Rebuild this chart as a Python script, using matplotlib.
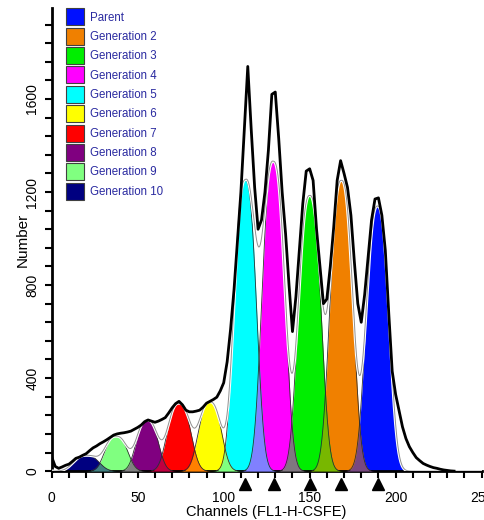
import numpy as np
import matplotlib
matplotlib.use('Agg')
import matplotlib.pyplot as plt
import matplotlib.patheffects as pe
from matplotlib.patches import Patch
from matplotlib.ticker import MultipleLocator
from matplotlib.colors import to_rgb

plt.rcParams['font.family'] = ['Liberation Sans', 'DejaVu Sans']

# Generation peaks (fitted model)
gen_names = ['Parent', 'Generation 2', 'Generation 3', 'Generation 4', 'Generation 5',
             'Generation 6', 'Generation 7', 'Generation 8', 'Generation 9', 'Generation 10']
gen_colors = ['#0010ff', '#f08000', '#00ee00', '#ff00ff', '#00ffff',
              '#ffff00', '#ff0000', '#800080', '#80ff80', '#000080']
gen_centers = [189.5, 168.5, 150.0, 129.0, 112.5, 92.0, 74.0, 55.5, 37.5, 20.0]
gen_heights = [1140, 1250, 1185, 1330, 1250, 298, 292, 220, 150, 68]
gen_widths = [8.5, 8.4, 8.4, 8.4, 8.2, 8.4, 8.6, 8.0, 8.3, 9.3]
peak_shape = 2.6

# Raw histogram (black outline), counts every 2 channels
hist_channels = np.arange(0, 236, 2)
hist_counts = [60, 20, 12, 18, 25, 30, 42, 55, 60, 68,
               75, 88, 100, 108, 118, 126, 135, 145, 155, 160,
               163, 165, 168, 172, 180, 188, 198, 212, 220, 215,
               210, 215, 222, 230, 250, 272, 290, 300, 285, 262,
               255, 255, 258, 262, 275, 292, 300, 308, 318, 345,
               380, 470, 610, 780, 990, 1200, 1470, 1740, 1470, 1220,
               1040, 1080, 1200, 1380, 1620, 1630, 1430, 1200, 1020, 800,
               600, 750, 950, 1150, 1290, 1300, 1250, 1040, 880, 720,
               740, 880, 1050, 1250, 1335, 1280, 1220, 1100, 900, 720,
               640, 760, 920, 1080, 1170, 1175, 1100, 950, 680, 430,
               330, 260, 190, 140, 105, 80, 58, 45, 33, 26,
               20, 15, 12, 8, 5, 3, 1, 0]

fig = plt.figure(figsize=(4.84, 5.2), dpi=100)
ax = fig.add_axes([0.107, 0.094, 0.888, 0.890])

x = np.linspace(0, 250, 2501)
curves = [h * np.exp(-(np.abs(x - c) / w) ** peak_shape)
          for c, h, w in zip(gen_centers, gen_heights, gen_widths)]

# peak fills
for g, col in zip(curves, gen_colors):
    ax.fill_between(x, 0, g, color=col, lw=0, zorder=2)

# overlaps between neighbouring generations get the mixed colour
for i in range(len(curves) - 1):
    mix = (np.array(to_rgb(gen_colors[i])) + np.array(to_rgb(gen_colors[i + 1]))) / 2
    ax.fill_between(x, 0, np.minimum(curves[i], curves[i + 1]), color=mix, lw=0, zorder=3)

for g in curves:
    gm = np.where(g > 2, g, np.nan)
    ax.plot(x, gm, color='#303030', lw=0.6, zorder=4)

# model sum
total = np.sum(curves, axis=0)
ax.plot(x, total, color='#909090', lw=0.7, zorder=5,
        path_effects=[pe.Stroke(linewidth=2.2, foreground='white'), pe.Normal()])

# data
ax.plot(hist_channels, hist_counts, color='black', lw=2.0, zorder=6)

# peak markers under the axis
ax.plot(gen_centers[:5], [-0.028] * 5, '^', color='black', markersize=9,
        transform=ax.get_xaxis_transform(), clip_on=False, zorder=7)

ax.set_xlim(0, 250)
ax.set_ylim(0, 1990)
ax.spines['top'].set_visible(False)
ax.spines['right'].set_visible(False)
ax.spines['left'].set_linewidth(2)
ax.spines['bottom'].set_linewidth(2)
ax.xaxis.set_major_locator(MultipleLocator(50))
ax.xaxis.set_minor_locator(MultipleLocator(10))
ax.yaxis.set_major_locator(MultipleLocator(400))
ax.yaxis.set_minor_locator(MultipleLocator(80))
ax.tick_params(which='both', direction='out', length=5, width=1.5, labelsize=10)
ax.tick_params(axis='x', which='major', pad=9)
ax.tick_params(axis='y', which='major', pad=4, labelrotation=90)
for lab in ax.get_yticklabels():
    lab.set_va('center')

ax.set_xlabel('Channels (FL1-H-CSFE)', fontsize=10.5, labelpad=0)
ax.set_ylabel('Number', fontsize=11, labelpad=-3)

handles = [Patch(facecolor=c, edgecolor='#404040', lw=0.8) for c in gen_colors]
ax.legend(handles, gen_names, loc='upper left', bbox_to_anchor=(0.033, 1.0),
          frameon=False, fontsize=8.3, labelcolor='#2a2aa0',
          handlelength=1.55, handleheight=1.9, labelspacing=0.2,
          handletextpad=0.55, borderpad=0, borderaxespad=0)

fig.savefig('out.png', dpi=100)
